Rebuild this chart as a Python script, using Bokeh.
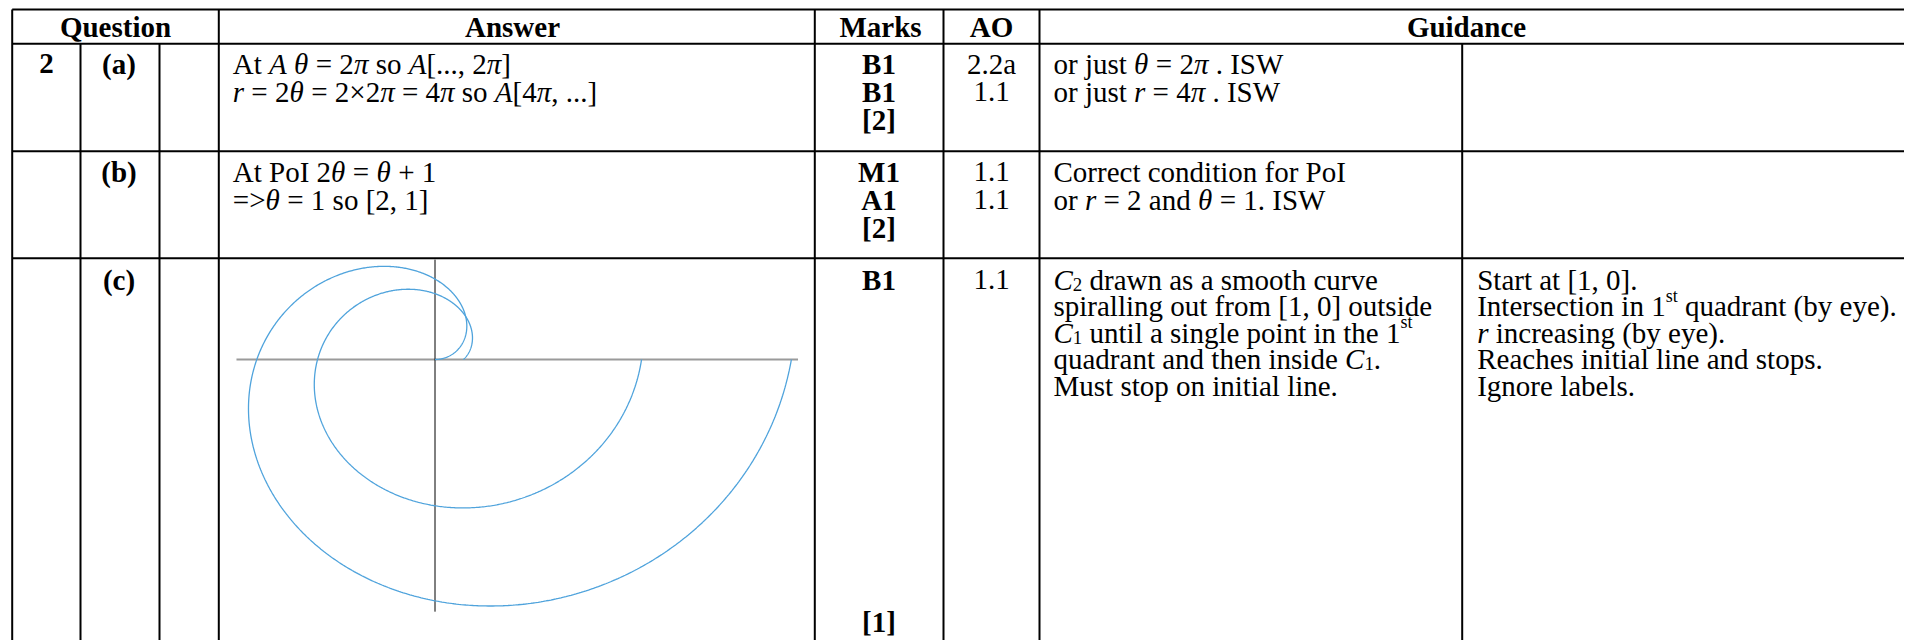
import numpy as np
from bokeh.plotting import figure
from bokeh.models import Range1d, ColumnDataSource
from bokeh.core.properties import value
from bokeh.embed import file_html
from bokeh.resources import INLINE

# ---------------- data ----------------
header_labels = ["Question", "Answer", "Marks", "AO", "Guidance"]
question_number = "2"
part_labels = ["(a)", "(b)", "(c)"]
marks_a = ["B1", "B1", "[2]"]
marks_b = ["M1", "A1", "[2]"]
marks_c = ["B1", "[1]"]
ao_a = ["2.2a", "1.1"]
ao_b = ["1.1", "1.1"]
ao_c = ["1.1"]

# polar curves of the sketch: C1: r = 2*theta, C2: r = theta + 1, theta in [0, 2*pi]
theta = np.linspace(0.0, 2.0 * np.pi, 721)
c1_slope = 2.0
c2_slope, c2_offset = 1.0, 1.0
initial_line_x = [-7.0, 12.8]
vertical_line_y = [3.9, -9.85]

# ---------------- figure ----------------
W, H = 1904, 640
p = figure(width=W, height=H, x_range=Range1d(0, W), y_range=Range1d(H, 0),
           output_backend="svg", toolbar_location=None, min_border=0,
           x_axis_location=None, y_axis_location=None)
p.grid.visible = False
p.outline_line_color = None
p.background_fill_color = "white"
p.border_fill_color = "white"
p.title.visible = False

# spiral coordinate system (pole position and scale in the frame)
ox, oy, sx, sy = 434.5, 359.0, 28.36, 25.6
p.extra_x_ranges = {"sp": Range1d((0 - ox) / sx, (W - ox) / sx)}
p.extra_y_ranges = {"sp": Range1d((oy - H) / sy, (oy - 0) / sy)}

# ---------------- table grid ----------------
L, R, B = 11.7, W, H
y_top, y_head, y_a, y_b = 9.0, 43.3, 150.7, 257.7
x_c1, x_c2, x_ans, x_marks, x_ao, x_guid, x_g2 = 80.0, 159.0, 218.3, 814.3, 943.0, 1039.0, 1461.7
x0 = [L, L, L, L, L, x_c1, x_c2, x_ans, x_marks, x_ao, x_guid, x_g2]
y0 = [y_top, y_head, y_a, y_b, y_top, y_head, y_head, y_top, y_top, y_top, y_top, y_head]
x1 = [R, R, R, R, L, x_c1, x_c2, x_ans, x_marks, x_ao, x_guid, x_g2]
y1 = [y_top, y_head, y_a, y_b, B, B, B, B, B, B, B, B]
p.segment(x0=x0, y0=y0, x1=x1, y1=y1, line_color="black", line_width=2)

# ---------------- sketch ----------------
p.line(x=initial_line_x, y=[0, 0], x_range_name="sp", y_range_name="sp",
       line_color="#9a9a9a", line_width=2)
p.line(x=[0, 0], y=vertical_line_y, x_range_name="sp", y_range_name="sp",
       line_color="black", line_width=1)
r1 = c1_slope * theta
r2 = c2_slope * theta + c2_offset
p.line(x=r1 * np.cos(theta), y=r1 * np.sin(theta), x_range_name="sp", y_range_name="sp",
       line_color="#4fa3dc", line_width=1.3)
p.line(x=r2 * np.cos(theta), y=r2 * np.sin(theta), x_range_name="sp", y_range_name="sp",
       line_color="#4fa3dc", line_width=1.3)

# ---------------- text ----------------
FS = 29
FONT = value("Liberation Serif")

W_R = {' ': 250, '(': 333, ')': 333, '+': 564, ',': 250, '.': 250, '=': 564, '>': 564,
       '[': 333, ']': 333, '×': 564, 'θ': 500, 'π': 500,
       'A': 722, 'B': 667, 'C': 667, 'I': 333, 'M': 889, 'P': 556, 'R': 667, 'S': 556, 'W': 944,
       'a': 444, 'b': 500, 'c': 444, 'd': 500, 'e': 444, 'f': 333, 'g': 500, 'h': 500,
       'i': 278, 'j': 278, 'k': 500, 'l': 278, 'm': 778, 'n': 500, 'o': 500, 'p': 500,
       'q': 500, 'r': 333, 's': 389, 't': 278, 'u': 500, 'v': 500, 'w': 722, 'x': 500,
       'y': 500, 'z': 444}
for d in "0123456789":
    W_R[d] = 500
W_I = {' ': 250, 'A': 611, 'C': 667, 'r': 389, 'θ': 500, 'π': 500}

styles = {k: dict(x=[], y=[], text=[]) for k in ("r", "i", "sub", "sup")}
SCALE = {"r": 1.0, "i": 1.0, "sub": 0.65, "sup": 0.62}
SHIFT = {"r": 0.0, "i": 0.0, "sub": 0.16, "sup": -0.36}


def seg_w(t, st):
    tab = W_I if st == "i" else W_R
    return sum(tab.get(ch, 500) for ch in t) / 1000.0 * FS * SCALE[st]


def put_line(x, y, segs):
    for t, st in segs:
        w = seg_w(t, st)
        s = t.strip()
        if s:
            lead = seg_w(t[:len(t) - len(t.lstrip())], st)
            styles[st]["x"].append(x + lead)
            styles[st]["y"].append(y + SHIFT[st] * FS)
            styles[st]["text"].append(s)
        x += w


RH = 26
RA = [63, 91.3, 119.6]
RB = [171, 199.3, 227.6]
RC = 279
R_LAST = 621

# answer column
XA = 232.3
put_line(XA, RA[0], [("At ", "r"), ("A", "i"), (" ", "r"), ("θ", "i"), (" = 2", "r"), ("π", "i"),
                     (" so ", "r"), ("A", "i"), ("[..., 2", "r"), ("π", "i"), ("]", "r")])
put_line(XA, RA[1], [("r", "i"), (" = 2", "r"), ("θ", "i"), (" = 2×2", "r"), ("π", "i"), (" = 4", "r"),
                     ("π", "i"), (" so ", "r"), ("A", "i"), ("[4", "r"), ("π", "i"), (", ...]", "r")])
put_line(XA, RB[0], [("At PoI 2", "r"), ("θ", "i"), (" = ", "r"), ("θ", "i"), (" + 1", "r")])
put_line(XA, RB[1], [("=>", "r"), ("θ", "i"), (" = 1 so [2, 1]", "r")])

# guidance column
XG = 1053.0
put_line(XG, RA[0], [("or just ", "r"), ("θ", "i"), (" = 2", "r"), ("π", "i"), (" . ISW", "r")])
put_line(XG, RA[1], [("or just ", "r"), ("r", "i"), (" = 4", "r"), ("π", "i"), (" . ISW", "r")])
put_line(XG, RB[0], [("Correct condition for PoI", "r")])
put_line(XG, RB[1], [("or ", "r"), ("r", "i"), (" = 2 and ", "r"), ("θ", "i"), (" = 1.  ISW", "r")])

GY = [RC, RC + 26.5, RC + 53, RC + 79.5, RC + 106]
put_line(XG, GY[0], [("C", "i"), ("2", "sub"), (" drawn as a smooth curve", "r")])
put_line(XG, GY[1], [("spiralling out from [1, 0] outside", "r")])
put_line(XG, GY[2], [("C", "i"), ("1", "sub"), (" until a single point in the 1", "r"), ("st", "sup")])
put_line(XG, GY[3], [("quadrant and then inside ", "r"), ("C", "i"), ("1", "sub"), (".", "r")])
put_line(XG, GY[4], [("Must stop on initial line.", "r")])

XG2 = 1476.7
put_line(XG2, GY[0], [("Start at [1, 0].", "r")])
put_line(XG2, GY[1], [("Intersection in 1", "r"), ("st", "sup"), (" quadrant (by eye).", "r")])
put_line(XG2, GY[2], [("r", "i"), (" increasing (by eye).", "r")])
put_line(XG2, GY[3], [("Reaches initial line and stops.", "r")])
put_line(XG2, GY[4], [("Ignore labels.", "r")])

for st, d in styles.items():
    p.text(x="x", y="y", text="text", source=ColumnDataSource(d),
           text_font=FONT, text_font_size=f"{FS * SCALE[st]:.1f}px",
           text_font_style="italic" if st == "i" else "normal",
           text_color="black", text_align="left", text_baseline="alphabetic")

# centred bold labels
cb = dict(x=[], y=[], text=[])
for lbl, cx in zip(header_labels, [115, 512, 880, 991, 1466]):
    cb["x"].append(cx); cb["y"].append(RH); cb["text"].append(lbl)
cb["x"].append(46); cb["y"].append(RA[0]); cb["text"].append(question_number)
for lbl, yy in zip(part_labels, [RA[0], RB[0], RC]):
    cb["x"].append(118.5); cb["y"].append(yy); cb["text"].append(lbl)
for lbl, yy in zip(marks_a, RA):
    cb["x"].append(878.5); cb["y"].append(yy); cb["text"].append(lbl)
for lbl, yy in zip(marks_b, RB):
    cb["x"].append(878.5); cb["y"].append(yy); cb["text"].append(lbl)
for lbl, yy in zip(marks_c, [RC, R_LAST]):
    cb["x"].append(878.5); cb["y"].append(yy); cb["text"].append(lbl)
p.text(x="x", y="y", text="text", source=ColumnDataSource(cb), text_font=FONT,
       text_font_size=f"{FS}px", text_font_style="bold", text_color="black",
       text_align="center", text_baseline="alphabetic")

# centred regular labels (AO)
cr = dict(x=[], y=[], text=[])
for lbl, yy in zip(ao_a, RA[:2]):
    cr["x"].append(991); cr["y"].append(yy); cr["text"].append(lbl)
for lbl, yy in zip(ao_b, RB[:2]):
    cr["x"].append(991); cr["y"].append(yy); cr["text"].append(lbl)
for lbl, yy in zip(ao_c, [RC]):
    cr["x"].append(991); cr["y"].append(yy); cr["text"].append(lbl)
p.text(x="x", y="y", text="text", source=ColumnDataSource(cr), text_font=FONT,
       text_font_size=f"{FS}px", text_font_style="normal", text_color="black",
       text_align="center", text_baseline="alphabetic")

open("out.html", "w").write(file_html(p, INLINE))
